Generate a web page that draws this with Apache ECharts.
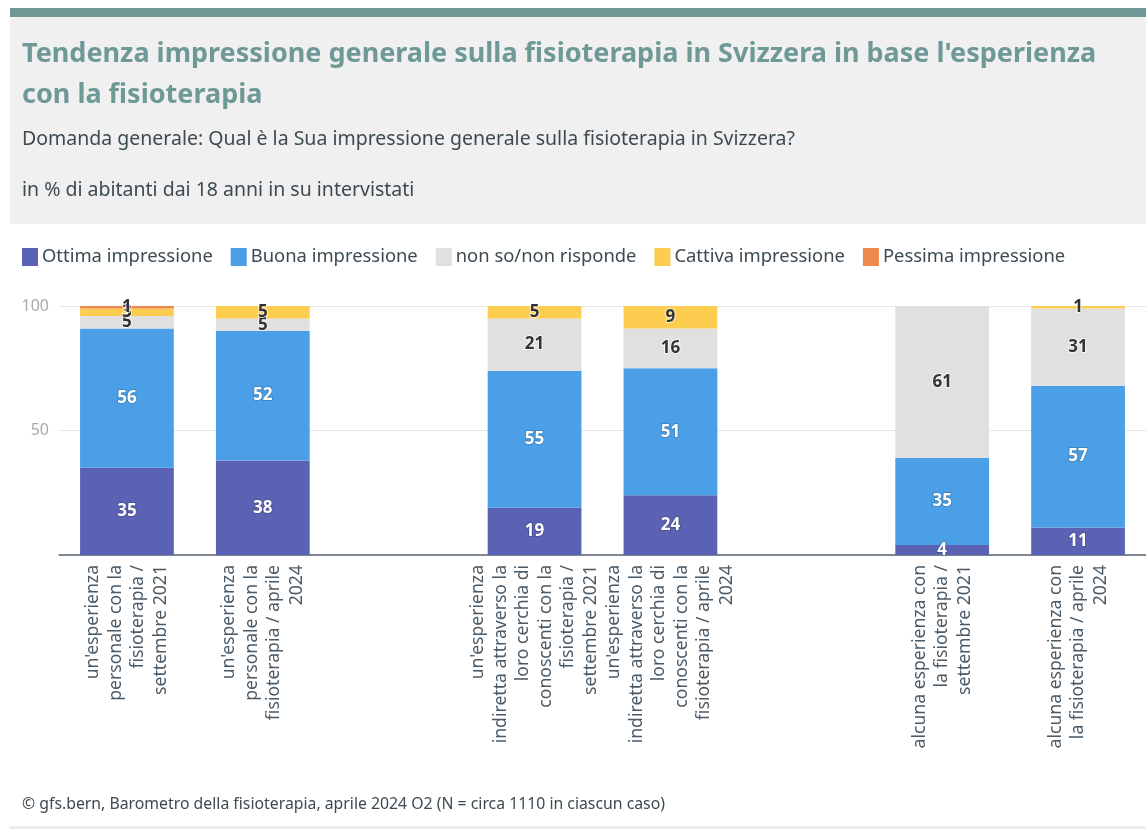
<!DOCTYPE html>
<html>
<head>
<meta charset="utf-8">
<script src="https://cdn.jsdelivr.net/npm/echarts@6/dist/echarts.min.js"></script>
<style>
html,body{margin:0;padding:0;background:#fff;}
#c{width:1146px;height:829px;}
</style>
</head>
<body>
<div id="c"></div>
<script>
const categories = [
  "un'esperienza\npersonale con la\nfisioterapia /\nsettembre 2021",
  "un'esperienza\npersonale con la\nfisioterapia / aprile\n2024",
  "",
  "un'esperienza\nindiretta attraverso la\nloro cerchia di\nconoscenti con la\nfisioterapia /\nsettembre 2021",
  "un'esperienza\nindiretta attraverso la\nloro cerchia di\nconoscenti con la\nfisioterapia / aprile\n2024",
  "",
  "alcuna esperienza con\nla fisioterapia /\nsettembre 2021",
  "alcuna esperienza con\nla fisioterapia / aprile\n2024"
];
const ottima  = [35, 38, null, 19, 24, null, 4, 11];
const buona   = [56, 52, null, 55, 51, null, 35, 57];
const nonSo   = [5, 5, null, 21, 16, null, 61, 31];
const cattiva = [3, 5, null, 5, 9, null, 0, 1];
const pessima = [1, 0, null, 0, 0, null, 0, 0];
const yTicks = [0, 50, 100];

const seriesNames = ['Ottima impressione','Buona impressione','non so/non risponde','Cattiva impressione','Pessima impressione'];
const seriesData = [ottima, buona, nonSo, cattiva, pessima];
const colors = ['#5b62b3','#4a9fe6','#e0e0e0','#fdcd4f','#ef884d'];
const labelColors = ['#ffffff','#ffffff','#333333','#333333','#333333'];
const FONT = "'Noto Sans', sans-serif";

const chart = echarts.init(document.getElementById('c'), null, {renderer:'canvas'});
chart.setOption({
  backgroundColor: '#ffffff',
  animation: false,
  textStyle: {fontFamily: FONT},
  graphic: [
    {type:'rect', shape:{x:10, y:8, width:1136, height:9}, style:{fill:'#6e9996'}, z:-1},
    {type:'rect', shape:{x:10, y:17, width:1136, height:207}, style:{fill:'#f0f0f0'}, z:-2},
    {type:'rect', shape:{x:10, y:826, width:1136, height:3}, style:{fill:'#ededed'}, z:-2}
  ],
  title: [
    {text: "Tendenza impressione generale sulla fisioterapia in Svizzera in base l'esperienza\ncon la fisioterapia",
     left: 22, top: 34, padding: 0,
     textStyle:{fontFamily:FONT, fontSize:27, fontWeight:'bold', color:'#6e9996', lineHeight:41}},
    {text: "Domanda generale: Qual è la Sua impressione generale sulla fisioterapia in Svizzera?",
     left: 22, top: 129, padding: 0, textStyle:{fontFamily:FONT, fontSize:19.5, fontWeight:'normal', color:'#3d4a52'}},
    {text: "in % di abitanti dai 18 anni in su intervistati",
     left: 22, top: 180, padding: 0, textStyle:{fontFamily:FONT, fontSize:19.5, fontWeight:'normal', color:'#3d4a52'}},
    {text: "© gfs.bern, Barometro della fisioterapia, aprile 2024 O2 (N = circa 1110 in ciascun caso)",
     left: 22, top: 796, padding: 0, textStyle:{fontFamily:FONT, fontSize:15.8, fontWeight:'normal', color:'#3d4a52'}}
  ],
  legend: {
    left: 17, top: 243,
    icon: 'rect', itemWidth: 16, itemHeight: 18, itemGap: 18,
    textStyle: {fontFamily:FONT, fontSize:18.4, color:'#3d4a52', padding:[0,0,0,-1]},
    data: seriesNames
  },
  grid: {left: 59, right: 0, top: 306, bottom: 274, containLabel: false},
  xAxis: {
    type: 'category',
    data: categories,
    axisLine: {show:true, lineStyle:{color:'#5a6570', width:1.5}},
    axisTick: {show:false},
    axisLabel: {interval:0, rotate:90, margin:10, fontFamily:FONT, fontSize:17.6, lineHeight:22.5, color:'#4a5a66'}
  },
  yAxis: {
    type: 'value', min: 0, max: 100, interval: 50,
    axisLine: {show:false}, axisTick:{show:false},
    axisLabel: {showMinLabel:false, fontFamily:FONT, fontSize:16, color:'#aaaaaa', margin:10},
    splitLine: {lineStyle:{color:'#e6e6e6'}}
  },
  series: seriesNames.map((n,i)=>({
    name: n, type: 'bar', stack: 'total',
    barCategoryGap: '31%',
    itemStyle: {color: colors[i]},
    data: seriesData[i],
    label: {
      show: true, position: 'inside',
      fontFamily: FONT, fontSize: 17, fontWeight: 'bold',
      color: labelColors[i],
      textBorderColor: i < 2 ? 'rgba(0,0,0,0.15)' : 'rgba(255,255,255,0.7)',
      textBorderWidth: 2,
      formatter: p => (p.value ? String(p.value) : '')
    }
  }))
});
</script>
</body>
</html>
